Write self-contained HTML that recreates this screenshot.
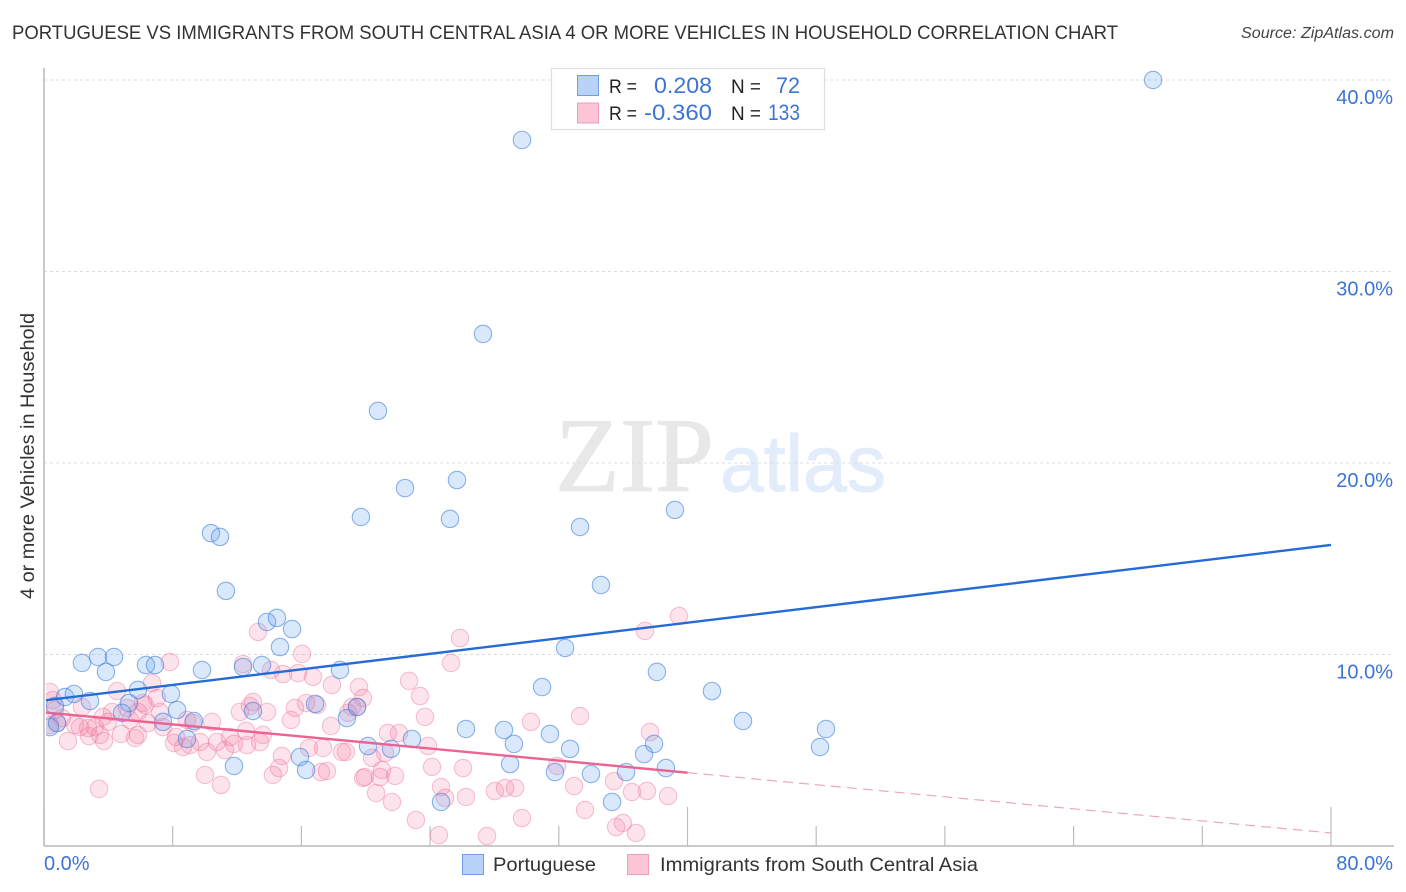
<!DOCTYPE html>
<html lang="en">
<head>
<meta charset="utf-8">
<title>Portuguese vs Immigrants from South Central Asia chart</title>
<style>
html,body{margin:0;padding:0;background:#fff;}
body{width:1406px;height:892px;overflow:hidden;font-family:"Liberation Sans",sans-serif;}
svg{display:block;}
text{font-family:"Liberation Sans",sans-serif;}
</style>
</head>
<body>
<svg id="chart" width="1406" height="892" viewBox="0 0 1406 892" xmlns="http://www.w3.org/2000/svg">
  <defs>
    <clipPath id="plot-clip"><rect x="46" y="60" width="1350" height="786"/></clipPath>
  </defs>
  <text x="12" y="39" font-size="19" fill="#333" textLength="1106" lengthAdjust="spacingAndGlyphs">PORTUGUESE VS IMMIGRANTS FROM SOUTH CENTRAL ASIA 4 OR MORE VEHICLES IN HOUSEHOLD CORRELATION CHART</text>
  <text x="1394" y="38" font-size="15.5" font-style="italic" fill="#444" text-anchor="end" textLength="153" lengthAdjust="spacingAndGlyphs">Source: ZipAtlas.com</text>
  <g>
    <text x="555" y="491" font-size="106" fill="#e8e8e8" stroke="#e8e8e8" stroke-width="1" style="font-family:'Liberation Serif',serif" textLength="159" lengthAdjust="spacingAndGlyphs">ZIP</text>
    <text x="720" y="491" font-size="80" fill="#e3ecfa" stroke="#e3ecfa" stroke-width="1" textLength="166" lengthAdjust="spacingAndGlyphs">atlas</text>
  </g>
  <g id="grid"></g>
  <g id="axes"></g>
  <g id="marks" clip-path="url(#plot-clip)"></g>
  <g id="tick-labels"></g>
  <text transform="translate(34,456) rotate(-90)" font-size="19" fill="#333" text-anchor="middle" textLength="286" lengthAdjust="spacingAndGlyphs">4 or more Vehicles in Household</text>
  <g>
    <rect x="551.5" y="68.5" width="273" height="61" fill="#fff" stroke="#dedede" stroke-width="1.2"/>
    <rect x="577.5" y="75.5" width="21" height="20" fill="#b9d3f8" stroke="#6f9fe0"/>
    <rect x="577.5" y="103" width="21" height="20" fill="#fcc5d6" stroke="#f29db8"/>
    <text x="609" y="93" font-size="19" fill="#222" textLength="28" lengthAdjust="spacingAndGlyphs">R =</text>
    <text x="654" y="93" font-size="22.5" fill="#3b74d4" textLength="58" lengthAdjust="spacingAndGlyphs">0.208</text>
    <text x="731" y="93" font-size="19" fill="#222" textLength="30" lengthAdjust="spacingAndGlyphs">N =</text>
    <text x="776" y="93" font-size="22.5" fill="#3b74d4" textLength="24" lengthAdjust="spacingAndGlyphs">72</text>
    <text x="609" y="120" font-size="19" fill="#222" textLength="28" lengthAdjust="spacingAndGlyphs">R =</text>
    <text x="644" y="120" font-size="22.5" fill="#3b74d4" textLength="68" lengthAdjust="spacingAndGlyphs">-0.360</text>
    <text x="731" y="120" font-size="19" fill="#222" textLength="30" lengthAdjust="spacingAndGlyphs">N =</text>
    <text x="768" y="120" font-size="22.5" fill="#3b74d4" textLength="32" lengthAdjust="spacingAndGlyphs">133</text>
  </g>
  <g>
    <rect x="462.5" y="854.5" width="21" height="20" fill="#b9d3f8" stroke="#6f9fe0"/>
    <text x="493" y="871" font-size="19.5" fill="#333" textLength="103" lengthAdjust="spacingAndGlyphs">Portuguese</text>
    <rect x="627.5" y="854.5" width="21" height="20" fill="#fcc5d6" stroke="#f29db8"/>
    <text x="660" y="871" font-size="19.5" fill="#333" textLength="318" lengthAdjust="spacingAndGlyphs">Immigrants from South Central Asia</text>
  </g>
</svg>
<script>
const yGridTicks = [10, 20, 30, 40];
const yTickLabels = ["10.0%", "20.0%", "30.0%", "40.0%"];
const xMinorTicks = [8, 16, 24, 32, 48, 56, 64, 72];
const xMajorTicks = [0, 40, 80];
const xEndLabels = ["0.0%", "80.0%"];

const portugueseX = [68.94,29.71,27.29,20.76,22.44,25.67,19.70,25.24,33.32,39.22,10.38,10.94,11.31,34.62,13.86,14.48,15.42,14.67,32.39,2.36,3.36,4.35,3.85,6.34,6.90,9.82,12.37,13.55,18.40,38.10,30.96,41.52,43.45,48.61,48.24,1.31,1.86,2.86,0.68,0.81,0.37,5.84,7.89,8.27,5.28,4.85,7.40,9.32,8.89,11.81,12.99,16.85,15.91,16.29,18.83,19.46,20.14,21.57,22.87,26.23,28.59,29.21,28.97,31.45,32.70,31.76,34.00,36.18,35.31,37.30,37.92,38.66,24.68];
const portugueseY = [40.00,36.87,26.74,22.72,18.69,19.11,17.18,17.08,16.66,17.55,16.34,16.14,13.32,13.63,11.70,11.91,11.33,10.39,10.34,9.56,9.87,9.87,9.09,9.45,9.45,9.19,9.35,9.45,9.19,9.09,8.30,8.09,6.53,6.11,5.17,7.78,7.94,7.57,7.31,6.42,6.21,8.15,7.94,7.10,7.47,6.95,6.48,6.53,5.59,4.18,7.05,7.42,4.65,3.97,6.68,7.26,5.22,5.07,5.59,6.11,6.06,5.33,4.28,5.85,5.07,3.86,3.76,3.86,2.30,4.80,5.33,4.07,2.30];

const immigrantsX = [13.30,16.04,7.83,12.37,14.11,14.86,15.79,16.72,17.90,19.58,19.83,6.71,4.54,0.37,0.56,2.36,4.23,3.67,6.28,7.02,7.21,5.84,5.35,3.98,6.46,7.40,8.89,9.26,10.44,12.18,12.80,12.99,13.86,15.60,15.35,16.29,16.97,17.84,19.15,18.90,19.46,12.56,13.61,13.43,11.56,11.81,11.25,10.75,10.13,9.70,8.64,8.08,8.21,2.24,1.93,2.74,3.17,1.49,2.80,3.73,4.79,5.66,5.84,14.79,14.61,14.23,16.47,17.34,18.52,18.77,17.22,17.59,19.83,19.95,10.01,11.00,3.42,0.81,0.37,0.68,25.86,25.30,37.36,39.47,22.69,23.37,23.68,21.38,22.07,21.20,20.39,23.87,24.12,21.01,20.89,21.82,20.64,21.63,23.12,24.68,24.93,24.55,26.05,26.23,27.54,28.03,28.66,29.28,29.71,30.27,33.32,31.89,32.95,33.63,35.43,36.55,37.48,38.79,37.67,35.56,35.99,36.80,5.16,6.15,9.08,12.62,1.12,3.48];
const immigrantsY = [11.18,10.03,9.61,9.50,9.19,8.98,9.03,8.83,8.41,8.30,7.73,8.51,8.09,8.04,7.62,7.26,7.00,6.74,7.36,7.73,7.00,7.00,6.58,6.48,6.42,6.21,6.58,6.42,6.48,7.00,7.31,7.52,7.00,7.21,6.58,7.47,7.36,6.27,7.26,6.95,7.26,6.01,5.80,5.43,5.69,5.33,5.01,5.43,4.91,5.43,5.17,5.38,5.69,6.21,6.32,6.16,6.21,5.48,5.74,5.48,5.85,5.64,5.80,4.70,4.07,3.71,5.12,5.12,4.91,4.91,3.86,3.92,3.55,3.60,3.71,3.19,2.98,6.42,6.32,7.10,10.86,9.56,11.23,12.01,8.62,7.83,6.74,5.90,5.90,4.86,4.60,5.22,4.13,3.97,3.60,3.66,2.77,2.30,1.36,3.08,2.51,0.57,4.07,2.56,0.52,2.87,3.03,3.03,1.46,6.48,6.79,4.18,3.13,1.88,3.39,2.82,2.87,2.61,5.95,0.99,1.20,0.68,7.21,7.47,5.27,5.27,6.68,5.80];

const trendPortugueseX = [0, 80];
const trendPortugueseY = [7.6, 15.72];
const trendImmigrantsSolidX = [0, 40];
const trendImmigrantsSolidY = [6.98, 3.83];
const trendImmigrantsDashX = [40, 80];
const trendImmigrantsDashY = [3.83, 0.68];

const SVGNS = 'http://www.w3.org/2000/svg';
function xScale(v){ return 44 + v * (1287 / 80); }
function yScale(v){ return 846 - v * 19.15; }
function make(tag, attrs, parent){
  const el = document.createElementNS(SVGNS, tag);
  for (const k in attrs) el.setAttribute(k, attrs[k]);
  parent.appendChild(el);
  return el;
}
const grid = document.getElementById('grid');
const axes = document.getElementById('axes');
const marks = document.getElementById('marks');
const labels = document.getElementById('tick-labels');

yGridTicks.forEach(function(t, i){
  const line = make('line', {x1:44, x2:1394, y1:yScale(t), y2:yScale(t), stroke:'#dcdcdc', 'stroke-width':1, 'stroke-dasharray':'3 3'}, grid);
  
  
  const label = make('text', {x:1393, y:yScale(t) + 24, 'font-size':20, fill:'#3b74d4', 'text-anchor':'end'}, labels);
  label.textContent = yTickLabels[i];
  
  
});

const yAxisLine = make('line', {x1:44, x2:44, y1:68, y2:846, stroke:'#b8b8b8', 'stroke-width':1.5}, axes);


const xAxisLine = make('line', {x1:44, x2:1394, y1:846, y2:846, stroke:'#b8b8b8', 'stroke-width':1.5}, axes);


xMinorTicks.forEach(function(t){
  const tick = make('line', {x1:xScale(t), x2:xScale(t), y1:826, y2:846, stroke:'#bcbcbc', 'stroke-width':1.2}, axes);
  
  
});
xMajorTicks.forEach(function(t){
  const tick = make('line', {x1:xScale(t), x2:xScale(t), y1:807, y2:846, stroke:'#bcbcbc', 'stroke-width':1.2}, axes);
  
  
});

const xLabelLeft = make('text', {x:44, y:870, 'font-size':20, fill:'#3b74d4'}, labels);
xLabelLeft.textContent = xEndLabels[0];


const xLabelRight = make('text', {x:1393, y:870, 'font-size':20, fill:'#3b74d4', 'text-anchor':'end'}, labels);
xLabelRight.textContent = xEndLabels[1];



immigrantsX.forEach(function(x, i){
  const c = make('circle', {cx:xScale(x), cy:yScale(immigrantsY[i]), r:8.7, fill:'rgba(245,125,160,0.21)', stroke:'rgba(235,115,155,0.42)', 'stroke-width':1.1}, marks);
  
  
});
portugueseX.forEach(function(x, i){
  const c = make('circle', {cx:xScale(x), cy:yScale(portugueseY[i]), r:8.7, fill:'rgba(100,160,240,0.24)', stroke:'rgba(60,125,220,0.58)', 'stroke-width':1.1}, marks);
  
  
});

const lineBlue = make('line', {x1:xScale(trendPortugueseX[0]), y1:yScale(trendPortugueseY[0]), x2:xScale(trendPortugueseX[1]), y2:yScale(trendPortugueseY[1]), stroke:'#246bd8', 'stroke-width':2.4}, marks);


const linePink = make('line', {x1:xScale(trendImmigrantsSolidX[0]), y1:yScale(trendImmigrantsSolidY[0]), x2:xScale(trendImmigrantsSolidX[1]), y2:yScale(trendImmigrantsSolidY[1]), stroke:'#ec6391', 'stroke-width':2.4}, marks);


const linePinkDash = make('line', {x1:xScale(trendImmigrantsDashX[0]), y1:yScale(trendImmigrantsDashY[0]), x2:xScale(trendImmigrantsDashX[1]), y2:yScale(trendImmigrantsDashY[1]), stroke:'#efa6bd', 'stroke-width':1.2, 'stroke-dasharray':'10 6'}, marks);


</script>
</body>
</html>
